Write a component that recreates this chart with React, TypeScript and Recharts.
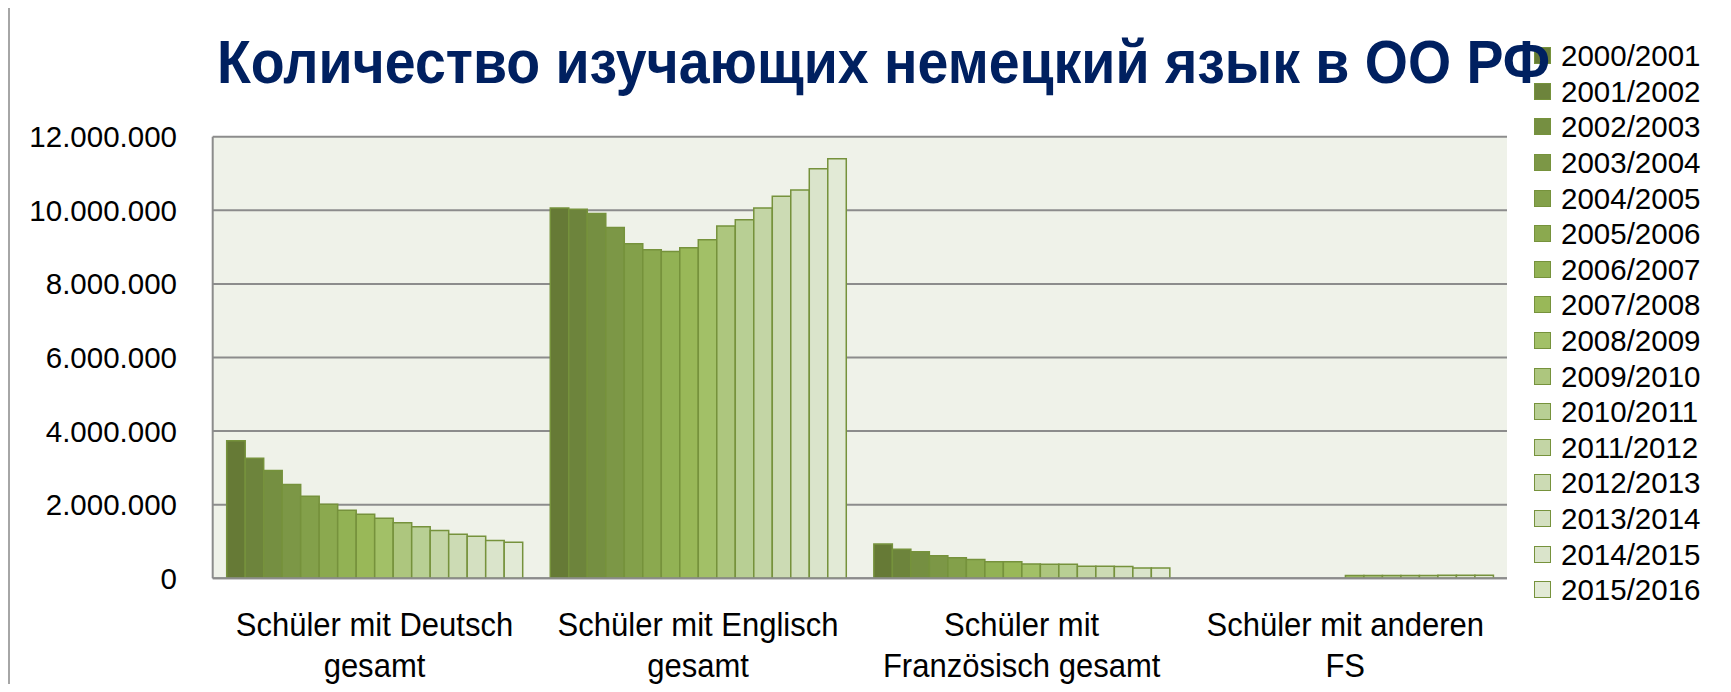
import React from 'react';
import { BarChart, Bar, XAxis, YAxis, CartesianGrid, Legend } from 'recharts';

const years = [
  '2000/2001', '2001/2002', '2002/2003', '2003/2004', '2004/2005', '2005/2006',
  '2006/2007', '2007/2008', '2008/2009', '2009/2010', '2010/2011', '2011/2012',
  '2012/2013', '2013/2014', '2014/2015', '2015/2016',
];

const categories = [
  'Schüler mit Deutsch gesamt',
  'Schüler mit Englisch gesamt',
  'Schüler mit Französisch gesamt',
  'Schüler mit anderen FS',
];

const categoryLines: Record<string, string[]> = {
  'Schüler mit Deutsch gesamt': ['Schüler mit Deutsch', 'gesamt'],
  'Schüler mit Englisch gesamt': ['Schüler mit Englisch', 'gesamt'],
  'Schüler mit Französisch gesamt': ['Schüler mit', 'Französisch gesamt'],
  'Schüler mit anderen FS': ['Schüler mit anderen', 'FS'],
};

const deutsch = [3740000, 3260000, 2930000, 2550000, 2230000, 2010000, 1850000, 1740000, 1630000, 1510000, 1400000, 1300000, 1200000, 1140000, 1030000, 980000];
const englisch = [10060000, 10030000, 9910000, 9530000, 9090000, 8930000, 8880000, 8980000, 9200000, 9570000, 9740000, 10060000, 10380000, 10550000, 11130000, 11400000];
const franz = [930000, 790000, 720000, 610000, 560000, 510000, 450000, 450000, 390000, 385000, 380000, 330000, 330000, 320000, 280000, 280000];
const andere = [null, null, null, null, null, null, null, null, 75000, 76000, 77000, 78000, 79000, 80000, 80000, 81000];

const yTicks = [0, 2000000, 4000000, 6000000, 8000000, 10000000, 12000000];

const colors = [
  '#667A36', '#6D843C', '#758F41', '#7C9746', '#83A04A', '#8BA94F', '#92B254', '#99B858',
  '#A2C067', '#ADC67E', '#B8CF94', '#C3D5A5', '#CCDBB4', '#D4E0C1', '#DAE4CB', '#E2EAD6',
];

const title = 'Количество изучающих немецкий язык в ОО РФ';

const seriesByCategory = [deutsch, englisch, franz, andere];
const data = categories.map((c, ci) => {
  const row: Record<string, any> = { name: c };
  years.forEach((y, i) => {
    row[y] = seriesByCategory[ci][i];
  });
  return row;
});

const FONT = '"Liberation Sans", Arial, sans-serif';

const fmt = (v: number) => String(v).replace(/\B(?=(\d{3})+(?!\d))/g, '.');

const YTick = (props: any) => {
  const { y, payload } = props;
  return (
    <text x={177} y={y} textAnchor="end" dominantBaseline="central" fontSize={29.5} fontFamily={FONT} fill="#000">
      {fmt(payload.value)}
    </text>
  );
};

const XTick = (props: any) => {
  const { x, y, payload } = props;
  const lines = categoryLines[payload.value] || [payload.value];
  return (
    <g>
      {lines.map((l: string, i: number) => (
        <text
          key={i}
          x={x}
          y={y + 58 + i * 41}
          textAnchor="middle"
          fontSize={33}
          fontFamily={FONT}
          fill="#000"
          transform={`translate(${x} 0) scale(0.94 1) translate(${-x} 0)`}
        >
          {l}
        </text>
      ))}
    </g>
  );
};

const LegendContent = (props: any) => {
  const { payload } = props;
  return (
    <div style={{ fontFamily: FONT }}>
      {(payload || []).map((p: any, i: number) => (
        <div key={i} style={{ height: 35.6, display: 'flex', alignItems: 'center' }}>
          <span
            style={{
              display: 'inline-block',
              width: 15,
              height: 15,
              marginLeft: 4,
              background: p.color,
              border: '1.5px solid #76923C',
              boxSizing: 'content-box',
            }}
          />
          <span style={{ marginLeft: 10, fontSize: 29.5, color: '#000', lineHeight: '35px' }}>{p.value}</span>
        </div>
      ))}
    </div>
  );
};

export default function App() {
  return (
    <div style={{ position: 'relative', width: 1731, height: 692, margin: -8, overflow: 'hidden', background: '#fff' }}>
      <div
        style={{
          position: 'absolute',
          left: 8,
          top: 6,
          width: 1800,
          height: 800,
          border: '2px solid #A6A6A6',
        }}
      />
      <div style={{ position: 'absolute', left: 0, top: 0 }}>
        <BarChart
          width={1731}
          height={692}
          data={data}
          margin={{ top: 136.7, right: 24, bottom: 13.7, left: 0 }}
          barGap={0}
          barSize={18.5}
        >
          <CartesianGrid vertical={false} stroke="#8C8C8C" strokeWidth={2} fill="#EFF2E9" fillOpacity={1} />
          <XAxis
            dataKey="name"
            height={100}
            tickLine={false}
            tickSize={0}
            tickMargin={0}
            axisLine={{ stroke: '#8C8C8C', strokeWidth: 2 }}
            tick={<XTick />}
            interval={0}
          />
          <YAxis
            width={212.7}
            domain={[0, 12000000]}
            ticks={yTicks}
            tickLine={false}
            axisLine={{ stroke: '#8C8C8C', strokeWidth: 2 }}
            tick={<YTick />}
            interval={0}
          />
          <Legend
            layout="vertical"
            verticalAlign="top"
            align="right"
            content={<LegendContent />}
            wrapperStyle={{ position: 'absolute', left: 1530, top: 38, width: 200, height: 580 }}
          />
          {years.map((y, i) => (
            <Bar
              key={y}
              dataKey={y}
              fill={colors[i]}
              stroke="#76923C"
              strokeWidth={1.5}
              isAnimationActive={false}
            />
          ))}
        </BarChart>
      </div>
      <svg style={{ position: 'absolute', left: 0, top: 0, pointerEvents: 'none' }} width={1731} height={120}>
        <text
          x={217}
          y={83}
          fontSize={62}
          fontWeight="bold"
          fontFamily={FONT}
          fill="#002060"
          textLength={1333}
          lengthAdjust="spacingAndGlyphs"
        >
          {title}
        </text>
      </svg>
    </div>
  );
}
